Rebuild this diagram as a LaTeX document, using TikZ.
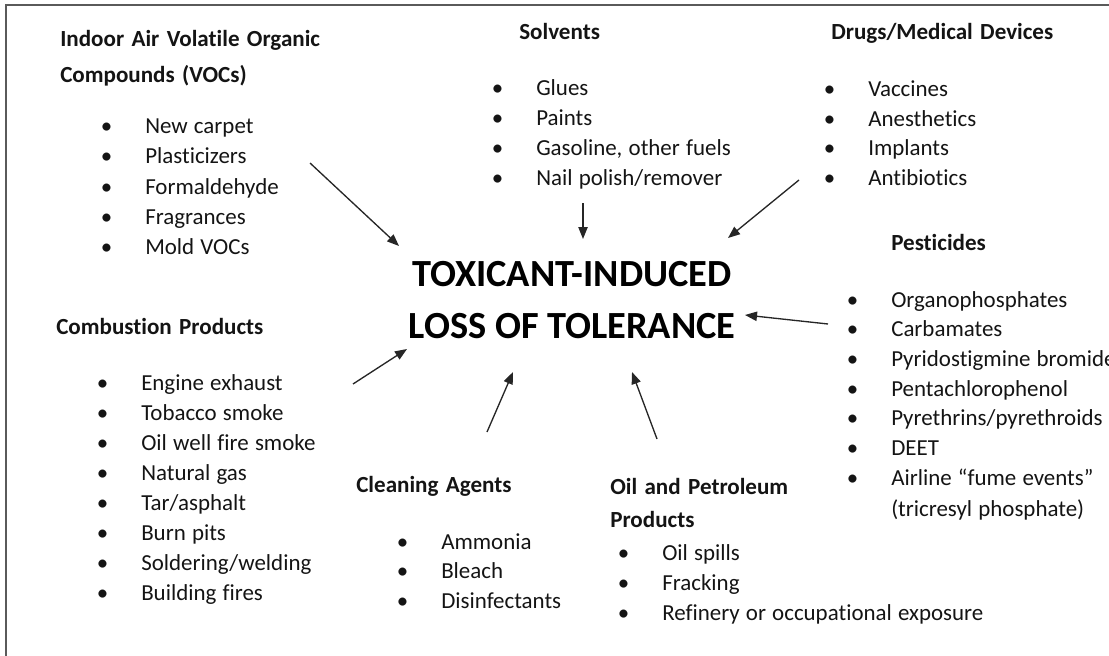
\documentclass[tikz,border=0pt]{standalone}
\usepackage{fontspec}
\setmainfont{Carlito}[Ligatures=CommonOff]
\usetikzlibrary{arrows.meta}
\definecolor{framegray}{RGB}{90,90,90}
\definecolor{txt}{RGB}{20,20,20}
\newcommand{\wshead}{\spaceskip=0.32em\relax}
\newcommand{\wsitem}{\spaceskip=0.27em\relax}
\tikzset{
  head/.style={anchor=base west, inner sep=0pt, font=\fontsize{17.3}{20}\selectfont\bfseries\wshead, text=txt},
  item/.style={anchor=base west, inner sep=0pt, font=\fontsize{17.2}{20}\selectfont\wsitem, text=txt},
  plain/.style={anchor=base west, inner sep=0pt, font=\fontsize{17.2}{20}\selectfont\wsitem, text=txt},
  title/.style={anchor=base, inner sep=0pt, font=\fontsize{28.8}{30}\selectfont\bfseries, text=black},
  arr/.style={-{Triangle[length=9pt,width=7pt]}, line width=1pt, draw=black!85},
}
\newcommand{\bul}[1]{\llap{\makebox[0pt][c]{\textbullet}\hspace{29pt}}#1}
\begin{document}
\begin{tikzpicture}[x=0.75pt,y=-0.75pt]
\useasboundingbox (0,0) rectangle (1109,656);
\draw[framegray, line width=1.1pt] (6,656) -- (6,5) -- (1109,5);

% Indoor air VOCs
\node[head] (voch1) at (60,47) {Indoor Air Volatile Organic};
\node[head] (voch2) at (60,83) {Compounds (VOCs)};
\foreach \t [count=\i] in {New carpet, Plasticizers, Formaldehyde, Fragrances, Mold VOCs}
  \node[item] (voc\i) at (145,{134+30*(\i-1)}) {\bul{\t}};

% Solvents
\node[head] (solh) at (519,40) {Solvents};
\foreach \t [count=\i] in {Glues, Paints, {Gasoline, other fuels}, Nail polish/remover}
  \node[item] (sol\i) at (536,{96+29.7*(\i-1)}) {\bul{\t}};

% Drugs
\node[head] (drgh) at (831,40) {Drugs/Medical Devices};
\foreach \t [count=\i] in {Vaccines, Anesthetics, Implants, Antibiotics}
  \node[item] (drg\i) at (868,{97+29.5*(\i-1)}) {\bul{\t}};

% Pesticides
\node[head] (pesh) at (891,250) {Pesticides};
\foreach \t [count=\i] in {Organophosphates, Carbamates, Pyridostigmine bromide, Pentachlorophenol, Pyrethrins/pyrethroids, DEET, Airline “fume events”}
  \node[item] (pes\i) at (891,{307+29.7*(\i-1)}) {\bul{\t}};
\node[plain] (pes8) at (891,516) {(tricresyl phosphate)};

% Combustion
\node[head] (comh) at (56,334) {Combustion Products};
\foreach \t [count=\i] in {Engine exhaust, Tobacco smoke, Oil well fire smoke, Natural gas, Tar/asphalt, Burn pits, Soldering/welding, Building fires}
  \node[item] (com\i) at (141,{390+30*(\i-1)}) {\bul{\t}};

% Cleaning
\node[head] (clnh) at (356,492) {Cleaning Agents};
\foreach \t [count=\i] in {Ammonia, Bleach, Disinfectants}
  \node[item] (cln\i) at (441,{549+29.5*(\i-1)}) {\bul{\t}};

% Oil and Petroleum
\node[head] (oilh1) at (610,494) {Oil and Petroleum};
\node[head] (oilh2) at (610,527) {Products};
\foreach \t [count=\i] in {Oil spills, Fracking, Refinery or occupational exposure}
  \node[item] (oil\i) at (662,{560+30*(\i-1)}) {\bul{\t}};

% Title
\node[title] (t1) at (572,286) {TOXICANT-INDUCED};
\node[title] (t2) at (572,338) {LOSS OF TOLERANCE};

% Arrows
\coordinate (a1s) at (310,163); \coordinate (a1e) at (399,246);
\coordinate (a2s) at (583,203); \coordinate (a2e) at (583,239);
\coordinate (a3s) at (799,180); \coordinate (a3e) at (728,238);
\coordinate (a4s) at (828,324); \coordinate (a4e) at (745,315);
\coordinate (a5s) at (353,384); \coordinate (a5e) at (407,349);
\coordinate (a6s) at (487,432); \coordinate (a6e) at (513,372);
\coordinate (a7s) at (657,439); \coordinate (a7e) at (632,372);
\foreach \k in {1,...,7} \draw[arr] (a\k s) -- (a\k e);
\end{tikzpicture}
\end{document}
